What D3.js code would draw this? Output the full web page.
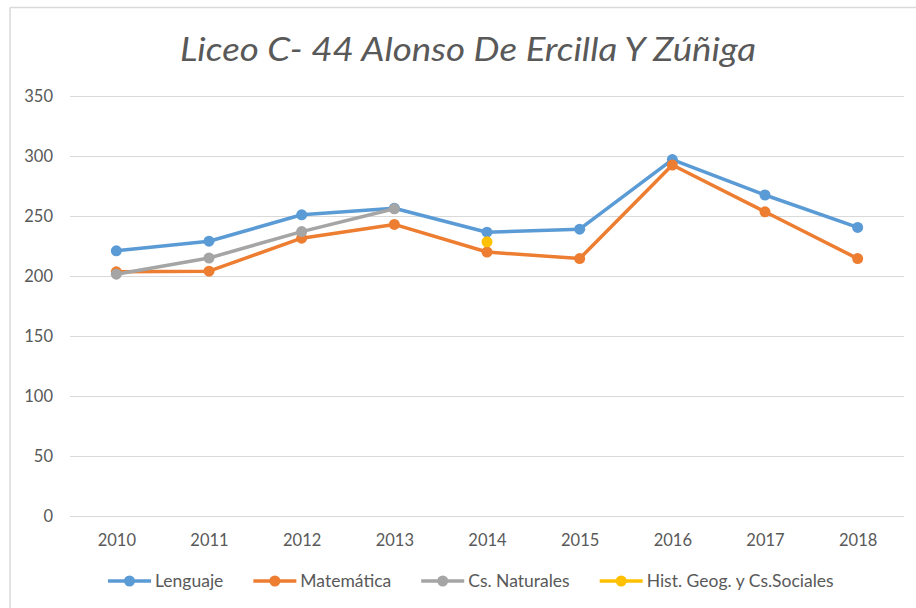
<!DOCTYPE html>
<html>
<head>
<meta charset="utf-8">
<title>Liceo C- 44</title>
<script src="https://cdn.jsdelivr.net/npm/d3@7"></script>
<style>
  body { margin: 0; background: #fff; }
  text { font-family: Lato, "Open Sans", sans-serif; fill: #595959; }
</style>
</head>
<body>
<svg id="chart" width="916" height="608"></svg>
<script>
// data
var years = ["2010", "2011", "2012", "2013", "2014", "2015", "2016", "2017", "2018"];
var lenguaje   = [221, 229, 251, 256.5, 236.5, 239, 297, 267.5, 240.5];
var matematica = [203.5, 204, 231.5, 243, 220, 214.5, 292.5, 253.5, 214.5];
var naturales  = [201.5, 215, 237, 256, null, null, null, null, null];
var historia   = [null, null, null, null, 228.5, null, null, null, null];
var yTicks = [0, 50, 100, 150, 200, 250, 300, 350];

var series = [
  {name: "Lenguaje", values: lenguaje, color: "#5B9BD5"},
  {name: "Matemática", values: matematica, color: "#ED7D31"},
  {name: "Cs. Naturales", values: naturales, color: "#A5A5A5"},
  {name: "Hist. Geog. y Cs.Sociales", values: historia, color: "#FFC000"}
];

var svg = d3.select("#chart");

// chart area border (left + top, rest is cut off)
svg.append("line").attr("x1", 10).attr("y1", 7.5).attr("x2", 916).attr("y2", 7.5)
  .attr("stroke", "#D9D9D9").attr("stroke-width", 1.5);
svg.append("line").attr("x1", 10).attr("y1", 7.5).attr("x2", 10).attr("y2", 608)
  .attr("stroke", "#D9D9D9").attr("stroke-width", 1.5);

// title
svg.append("text")
  .attr("x", 468).attr("y", 61)
  .attr("text-anchor", "middle")
  .attr("font-size", 32).attr("font-style", "italic")
  .attr("textLength", 576).attr("lengthAdjust", "spacingAndGlyphs")
  .text("Liceo C- 44 Alonso De Ercilla Y Zúñiga");

var x = d3.scalePoint().domain(years).range([70, 904]).padding(0.5);
var y = d3.scaleLinear().domain([0, 350]).range([516, 96]);

// grid
var yAxis = d3.axisLeft(y).tickValues(yTicks).tickSize(-834).tickPadding(17);
var gy = svg.append("g").attr("transform", "translate(70,0)").call(yAxis);
gy.select(".domain").remove();
gy.selectAll(".tick line").attr("stroke", "#D9D9D9").attr("stroke-width", 1.2);
gy.selectAll(".tick text").attr("font-size", 16.5).attr("fill", "#595959").attr("font-family", "Lato, sans-serif");

var xAxis = d3.axisBottom(x).tickSize(0).tickPadding(18);
var gx = svg.append("g").attr("transform", "translate(0,516)").call(xAxis);
gx.select(".domain").remove();
gx.selectAll(".tick text").attr("font-size", 16.5).attr("fill", "#595959").attr("font-family", "Lato, sans-serif");

// lines and markers
var line = d3.line()
  .defined(function(d) { return d != null; })
  .x(function(d, i) { return x(years[i]); })
  .y(function(d) { return y(d); });

series.forEach(function(s) {
  var g = svg.append("g");
  g.append("path")
    .attr("d", line(s.values))
    .attr("fill", "none")
    .attr("stroke", s.color)
    .attr("stroke-width", 3.5)
    .attr("stroke-linejoin", "round")
    .attr("stroke-linecap", "round");
  g.selectAll("circle")
    .data(s.values.map(function(v, i) { return {v: v, yr: years[i]}; }).filter(function(d) { return d.v != null; }))
    .enter().append("circle")
    .attr("cx", function(d) { return x(d.yr); })
    .attr("cy", function(d) { return y(d.v); })
    .attr("r", 5.5)
    .attr("fill", s.color);
});

// legend
var legend = svg.append("g").attr("transform", "translate(0,581)");
var lx = 108;
series.forEach(function(s) {
  var it = legend.append("g").attr("transform", "translate(" + lx + ",0)");
  it.append("line").attr("x1", 0).attr("x2", 43).attr("y1", 0).attr("y2", 0)
    .attr("stroke", s.color).attr("stroke-width", 3.5);
  it.append("circle").attr("cx", 21.5).attr("cy", 0).attr("r", 5.5).attr("fill", s.color);
  var t = it.append("text").attr("x", 47).attr("y", 6)
    .attr("font-size", 17.5).text(s.name);
  lx += 47 + t.node().getComputedTextLength() + 30;
});
</script>
</body>
</html>
